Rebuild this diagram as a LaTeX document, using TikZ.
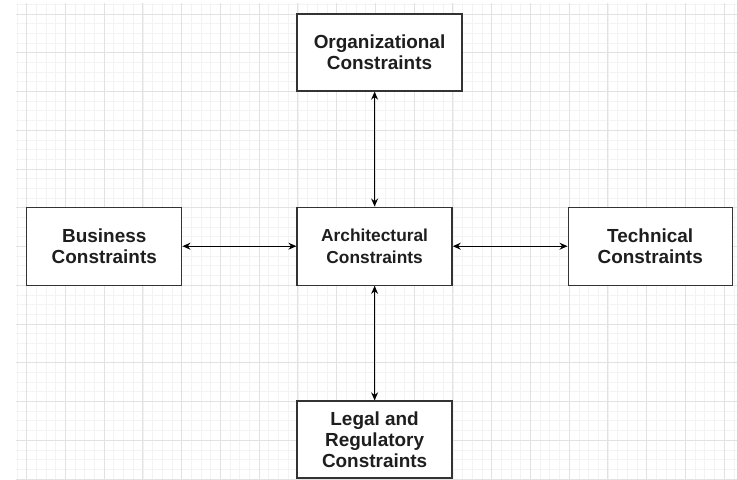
\documentclass[tikz,border=0pt]{standalone}
\usepackage{fontspec}
\setmainfont{Liberation Sans}
\usetikzlibrary{arrows.meta}
\definecolor{gridmajor}{HTML}{E2E2E2}
\definecolor{gridminor}{HTML}{F3F3F3}
\definecolor{boxline}{HTML}{333333}
\definecolor{txt}{HTML}{1E1E1E}
\tikzset{
  box/.style={draw=boxline, line width=1pt, fill=white, inner sep=0pt, align=center,
    text=txt, font=\fontsize{14.2}{15.9}\selectfont\bfseries},
  smallbox/.style={box, font=\fontsize{13}{15.9}\selectfont\bfseries},
  link/.style={{Stealth[length=6pt,width=5.2pt]}-{Stealth[length=6pt,width=5.2pt]}, line width=0.95pt, black},
}
\begin{document}
\begin{tikzpicture}[x=0.75pt,y=-0.75pt]
\useasboundingbox (0,0) rectangle (737,479);
\fill[white] (0,0) rectangle (737,479);
% grid
\begin{scope}
\clip (16,3) rectangle (737,479);
\foreach \i in {-1,...,74} {
  \draw[gridminor, line width=0.6pt] ({26.7+\i*9.6875},3) -- ({26.7+\i*9.6875},479);
}
\foreach \i in {-2,...,48} {
  \draw[gridminor, line width=0.6pt] (16,{14+\i*9.6875}) -- (737,{14+\i*9.6875});
}
\foreach \i in {0,...,18} {
  \draw[gridmajor, line width=0.7pt] ({26.7+\i*38.75},3) -- ({26.7+\i*38.75},479);
}
\foreach \i in {0,...,12} {
  \draw[gridmajor, line width=0.7pt] (16,{14+\i*38.75}) -- (737,{14+\i*38.75});
}
\end{scope}
% nodes
\node[box, minimum width=123.75pt, minimum height=57.75pt] (org) at (379.5,52.5) {Organizational\\Constraints};
\node[box, minimum width=116.25pt, minimum height=58.5pt] (bus) at (104.3,246.2) {Business\\Constraints};
\node[smallbox, minimum width=116.25pt, minimum height=58.5pt] (arch) at (374.6,246.2) {Architectural\\Constraints};
\node[box, minimum width=123pt, minimum height=58.5pt] (tech) at (650.2,246.2) {Technical\\Constraints};
\node[box, minimum width=116.25pt, minimum height=57.75pt] (legal) at (374.6,439.5) {Legal and\\Regulatory\\Constraints};
% connectors
\draw[link] (arch.north) -- (arch.north |- org.south);
\draw[link] (arch.south) -- (legal.north);
\draw[link] (bus.east) -- (arch.west);
\draw[link] (arch.east) -- (tech.west);
\end{tikzpicture}
\end{document}
